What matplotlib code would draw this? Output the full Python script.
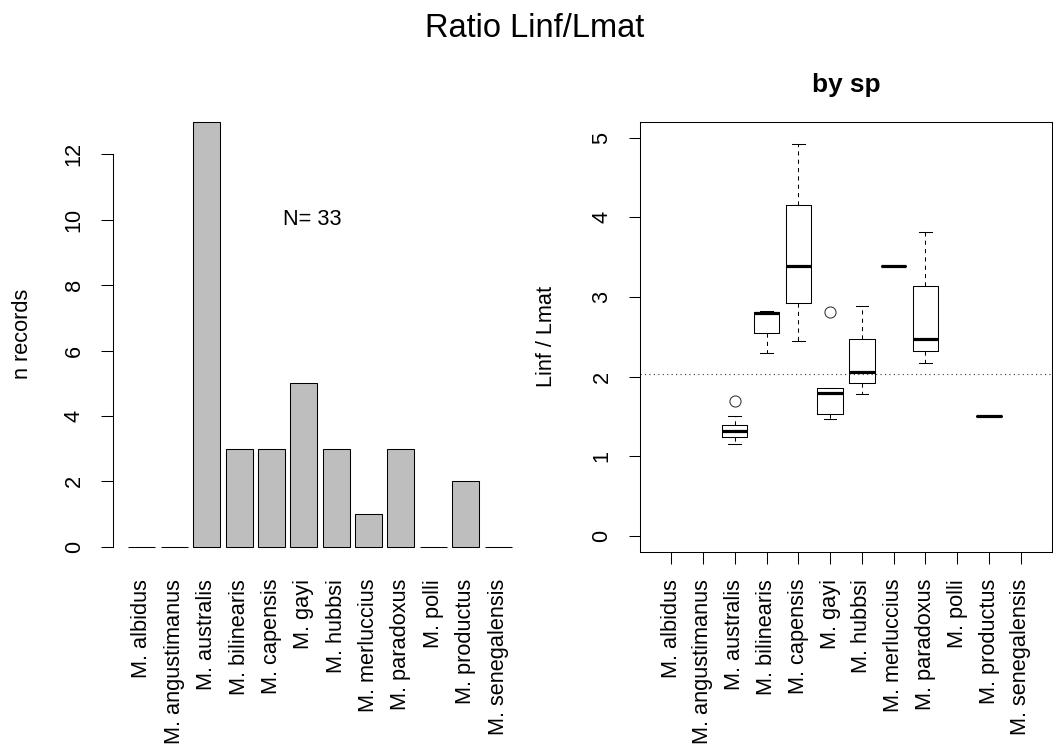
import numpy as np
import matplotlib
matplotlib.use("Agg")
import matplotlib.pyplot as plt

plt.rcParams['font.family'] = ['Liberation Sans', 'DejaVu Sans']

# species and Linf/Lmat ratios
species = ['M. albidus', 'M. angustimanus', 'M. australis', 'M. bilinearis',
           'M. capensis', 'M. gayi', 'M. hubbsi', 'M. merluccius',
           'M. paradoxus', 'M. polli', 'M. productus', 'M. senegalensis']

ratio_albidus = []
ratio_angustimanus = []
ratio_australis = [1.15, 1.18, 1.22, 1.24, 1.27, 1.29, 1.31, 1.33, 1.36, 1.39, 1.44, 1.50, 1.69]
ratio_bilinearis = [2.29, 2.80, 2.82]
ratio_capensis = [2.45, 3.39, 4.92]
ratio_gayi = [1.47, 1.53, 1.79, 1.86, 2.81]
ratio_hubbsi = [1.78, 2.06, 2.88]
ratio_merluccius = [3.39]
ratio_paradoxus = [2.17, 2.47, 3.81]
ratio_polli = []
ratio_productus = [1.51, 1.51]
ratio_senegalensis = []

ratios = [ratio_albidus, ratio_angustimanus, ratio_australis, ratio_bilinearis,
          ratio_capensis, ratio_gayi, ratio_hubbsi, ratio_merluccius,
          ratio_paradoxus, ratio_polli, ratio_productus, ratio_senegalensis]

n_records = [len(r) for r in ratios]
n_total = sum(n_records)
all_vals = [v for r in ratios for v in r]
mean_ratio = np.mean(all_vals)

W, H = 1053, 749
fig = plt.figure(figsize=(W / 100, H / 100), dpi=100)

base = 15.7
lw = 0.75

# ---- left: barplot of records
ax1 = fig.add_axes([113 / W, 1 - 563.7 / H, 414 / W, 459 / H])
xb = 0.7 + 1.2 * np.arange(len(species))
ax1.bar(xb, n_records, width=1.0, color='#BEBEBE', edgecolor='black', linewidth=lw)
ax1.set_xlim(-0.368, 14.968)
ax1.set_ylim(-0.52, 13.52)
ax1.set_xticks(xb)
ax1.set_xticklabels(species, rotation=90, va='top', ha='center')
ax1.set_yticks(range(0, 13, 2))
ax1.tick_params(axis='x', length=0, pad=11, labelsize=base)
ax1.tick_params(axis='y', length=8.6, width=lw, pad=11.8, labelsize=base, labelrotation=90)
for lab in ax1.get_yticklabels():
    lab.set_va('center')
for s in ['top', 'right', 'bottom']:
    ax1.spines[s].set_visible(False)
ax1.spines['left'].set_bounds(0, 12)
ax1.spines['left'].set_linewidth(lw)
ax1.text(7.0, 10, 'N= %d' % n_total, ha='center', va='center', fontsize=base)

# ---- right: boxplot by species
ax2 = fig.add_axes([640 / W, 1 - 551.7 / H, 412 / W, 430 / H])
pos = [i + 1 for i, r in enumerate(ratios) if len(r) > 0]
data = [r for r in ratios if len(r) > 0]
ax2.boxplot(data, positions=pos, widths=0.8, whis=1.5, manage_ticks=False,
            capwidths=0.4,
            boxprops=dict(color='black', linewidth=lw),
            whiskerprops=dict(color='black', linewidth=lw, linestyle=(0, (4, 4))),
            capprops=dict(color='black', linewidth=lw),
            medianprops=dict(color='black', linewidth=2.3, solid_capstyle='butt'),
            flierprops=dict(marker='o', markerfacecolor='none', markeredgecolor='#333333',
                            markersize=8, markeredgewidth=lw))
ax2.axhline(mean_ratio, color='#333333', linewidth=0.8, linestyle=(0, (1, 3)))
ax2.set_xlim(0.02, 12.98)
ax2.set_ylim(-0.2, 5.2)
ax2.set_xticks(range(1, len(species) + 1))
ax2.set_xticklabels(species, rotation=90, va='top', ha='center')
ax2.set_yticks(range(0, 6))
ax2.tick_params(axis='x', length=8.6, width=lw, pad=11, labelsize=base)
ax2.tick_params(axis='y', length=8.0, width=lw, pad=11.8, labelsize=base, labelrotation=90)
for lab in ax2.get_yticklabels():
    lab.set_va('center')
for s in ax2.spines.values():
    s.set_linewidth(lw)

# labels and titles
fig.text(23 / W, 1 - 334 / H, 'n records', rotation=90, ha='center', va='center', fontsize=base)
fig.text(547 / W, 1 - 336.7 / H, 'Linf / Lmat', rotation=90, ha='center', va='center', fontsize=base)
fig.text(846 / W, 1 - 91.7 / H, 'by sp', ha='center', va='baseline', fontsize=18.8, fontweight='bold')
fig.text(535 / W, 1 - 36.7 / H, 'Ratio Linf/Lmat', ha='center', va='baseline', fontsize=23.5)

fig.savefig('out.png', dpi=100)
